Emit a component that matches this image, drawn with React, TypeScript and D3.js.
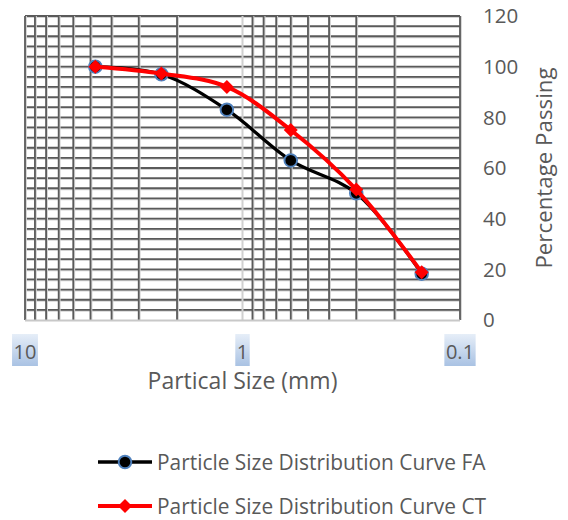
import React from "react";
import * as d3 from "d3";

const sizes = [4.75, 2.36, 1.18, 0.6, 0.3, 0.15];
const faValues = [100, 97, 83, 63, 50, 18.3];
const ctValues = [100, 97.3, 92, 75, 51.5, 18.8];
const yTicks = [0, 20, 40, 60, 80, 100, 120];
const xTickValues = [10, 1, 0.1];
const xTickLabels = ["10", "1", "0.1"];
const seriesNames = ["Particle Size Distribution Curve FA", "Particle Size Distribution Curve CT"];

const W = 568;
const H = 520;
const plot = { left: 25, right: 460, top: 16, bottom: 320 };
const FONT = "'Open Sans', sans-serif";
const TEXT = "#595959";

export default function App() {
  const x = d3.scaleLog().domain([10, 0.1]).range([plot.left, plot.right]);
  const y = d3.scaleLinear().domain([0, 120]).range([plot.bottom, plot.top]);

  const minorX: number[] = [];
  for (const dec of [0.1, 1]) {
    for (let k = 2; k <= 9; k++) minorX.push(+(k * dec).toFixed(3));
  }
  minorX.push(10, 0.1);
  const minorY = d3.range(4, 121, 4);

  const line = d3
    .line<[number, number]>()
    .x((d) => x(d[0]))
    .y((d) => y(d[1]))
    .curve(d3.curveCatmullRom.alpha(0.5));

  const faPts: [number, number][] = sizes.map((s, i) => [s, faValues[i]]);
  const ctPts: [number, number][] = sizes.map((s, i) => [s, ctValues[i]]);

  const diamond = (cx: number, cy: number, r: number) =>
    `M${cx},${cy - r}L${cx + r},${cy}L${cx},${cy + r}L${cx - r},${cy}Z`;

  const tickFs = 20;
  const labelWidth = (s: string) =>
    s.split("").reduce((a, c) => a + (c === "." ? 0.27 : 0.572), 0) * tickFs;

  return (
    <svg
      width={W}
      height={H}
      style={{ position: "absolute", left: 0, top: 0, background: "#fff" }}
      fontFamily={FONT}
    >
      <defs>
        <linearGradient id="sel" x1="0" y1="0" x2="0" y2="1">
          <stop offset="0" stopColor="#e6eef8" />
          <stop offset="1" stopColor="#a9c2e3" />
        </linearGradient>
      </defs>

      {minorY.map((v) => (
        <g key={"h" + v}>
          <line x1={plot.left} x2={plot.right} y1={y(v) + 0.9} y2={y(v) + 0.9} stroke="#d4d4d4" strokeWidth={2} />
          <line x1={plot.left} x2={plot.right} y1={y(v)} y2={y(v)} stroke="#5a5a5a" strokeWidth={1.8} />
        </g>
      ))}
      {minorX.map((v) => (
        <g key={"v" + v}>
          <line x1={x(v) + 0.9} x2={x(v) + 0.9} y1={plot.top} y2={plot.bottom} stroke="#d4d4d4" strokeWidth={2} />
          <line x1={x(v)} x2={x(v)} y1={plot.top} y2={plot.bottom} stroke="#5a5a5a" strokeWidth={1.8} />
        </g>
      ))}
      <line x1={x(1)} x2={x(1)} y1={plot.top} y2={plot.bottom} stroke="#d0d0d0" strokeWidth={2} />
      <line x1={plot.left} x2={plot.right} y1={plot.bottom + 0.5} y2={plot.bottom + 0.5} stroke="#c8c8c8" strokeWidth={2} />

      <path d={line(faPts) || ""} fill="none" stroke="#000" strokeWidth={3.3} strokeLinejoin="round" />
      {faPts.map((p, i) => (
        <circle key={"fa" + i} cx={x(p[0])} cy={y(p[1])} r={6.3} fill="#000" stroke="#4f81bd" strokeWidth={1.9} />
      ))}
      <path d={line(ctPts) || ""} fill="none" stroke="#ff0000" strokeWidth={4} strokeLinejoin="round" />
      {ctPts.map((p, i) => (
        <path key={"ct" + i} d={diamond(x(p[0]), y(p[1]), 7)} fill="#ff0000" />
      ))}

      {yTicks.map((t) => (
        <text key={"yt" + t} x={483} y={y(t)} dy="0.36em" fontSize={20.5} fill={TEXT}>
          {t}
        </text>
      ))}
      <text
        transform={`translate(552, ${(plot.top + plot.bottom) / 2}) rotate(-90)`}
        textAnchor="middle"
        fontSize={22.3}
        fill={TEXT}
      >
        Percentage Passing
      </text>

      {xTickValues.map((v, i) => {
        const w = labelWidth(xTickLabels[i]) + 3;
        return (
          <g key={"xt" + v}>
            <rect x={x(v) - w / 2} y={334} width={w} height={32} fill="url(#sel)" />
            <text x={x(v)} y={359} textAnchor="middle" fontSize={tickFs} fill={TEXT}>
              {xTickLabels[i]}
            </text>
          </g>
        );
      })}
      <text x={(plot.left + plot.right) / 2} y={389} textAnchor="middle" fontSize={23} fill={TEXT}>
        Partical Size (mm)
      </text>

      <g>
        <line x1={98} x2={152} y1={462} y2={462} stroke="#000" strokeWidth={3.3} />
        <circle cx={125} cy={462} r={6.3} fill="#000" stroke="#4f81bd" strokeWidth={1.9} />
        <text x={157} y={462} dy="0.36em" fontSize={20.9} fill={TEXT}>
          {seriesNames[0]}
        </text>
        <line x1={98} x2={152} y1={506} y2={506} stroke="#ff0000" strokeWidth={4} />
        <path d={diamond(125, 506, 7)} fill="#ff0000" />
        <text x={157} y={506} dy="0.36em" fontSize={20.9} fill={TEXT}>
          {seriesNames[1]}
        </text>
      </g>
    </svg>
  );
}
